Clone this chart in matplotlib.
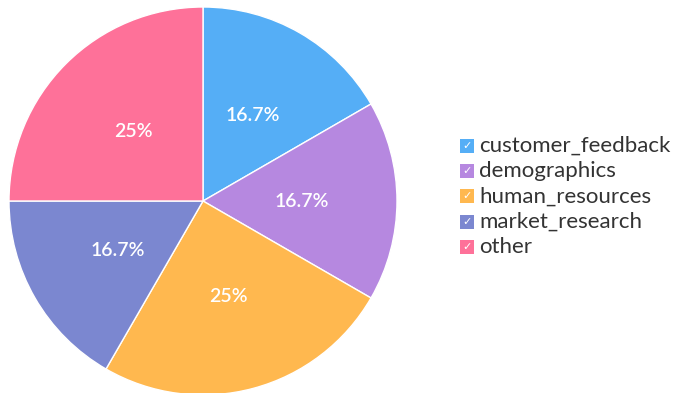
import matplotlib
matplotlib.use("Agg")
import matplotlib.pyplot as plt
from matplotlib.patches import Rectangle

labels = ["customer_feedback", "demographics", "human_resources", "market_research", "other"]
counts = [2, 2, 3, 2, 3]
colors = ["#55aef6", "#b688e0", "#ffb84f", "#7b87d0", "#fe7199"]

plt.rcParams['font.family'] = ['Lato', 'DejaVu Sans']

W, H = 679, 393
fig = plt.figure(figsize=(W / 100, H / 100), dpi=100)

# pie placed so its centre sits at about (203, 201) px, radius 194 px
cx, cy, r = 203, 201, 194
ax = fig.add_axes([(cx - r) / W, (H - cy - r) / H, 2 * r / W, 2 * r / H])
ax.pie(counts, colors=colors, startangle=90, counterclock=False,
       autopct=lambda p: f"{p:.1f}%" if abs(p - round(p)) > 0.05 else f"{p:.0f}%",
       pctdistance=0.51, radius=1,
       wedgeprops=dict(edgecolor="white", linewidth=1),
       textprops=dict(color="white", fontsize=14, fontweight="semibold"))
ax.set_xlim(-1, 1)
ax.set_ylim(-1, 1)
ax.set_aspect("equal")
ax.axis("off")

# legend with check boxes
box = 14
for i, (lab, col) in enumerate(zip(labels, colors)):
    yc = 146 + i * 25.2
    fig.patches.append(Rectangle((460 / W, (H - yc - box / 2) / H), box / W, box / H,
                                 transform=fig.transFigure, facecolor=col,
                                 edgecolor="none"))
    fig.text(467 / W, (H - yc) / H, "\u2713", color="white", fontsize=8,
             family="DejaVu Sans", ha="center", va="center")
    fig.text(479 / W, (H - yc) / H, lab, color="#333333", fontsize=16,
             ha="left", va="center")

fig.savefig("out.png", dpi=100)
